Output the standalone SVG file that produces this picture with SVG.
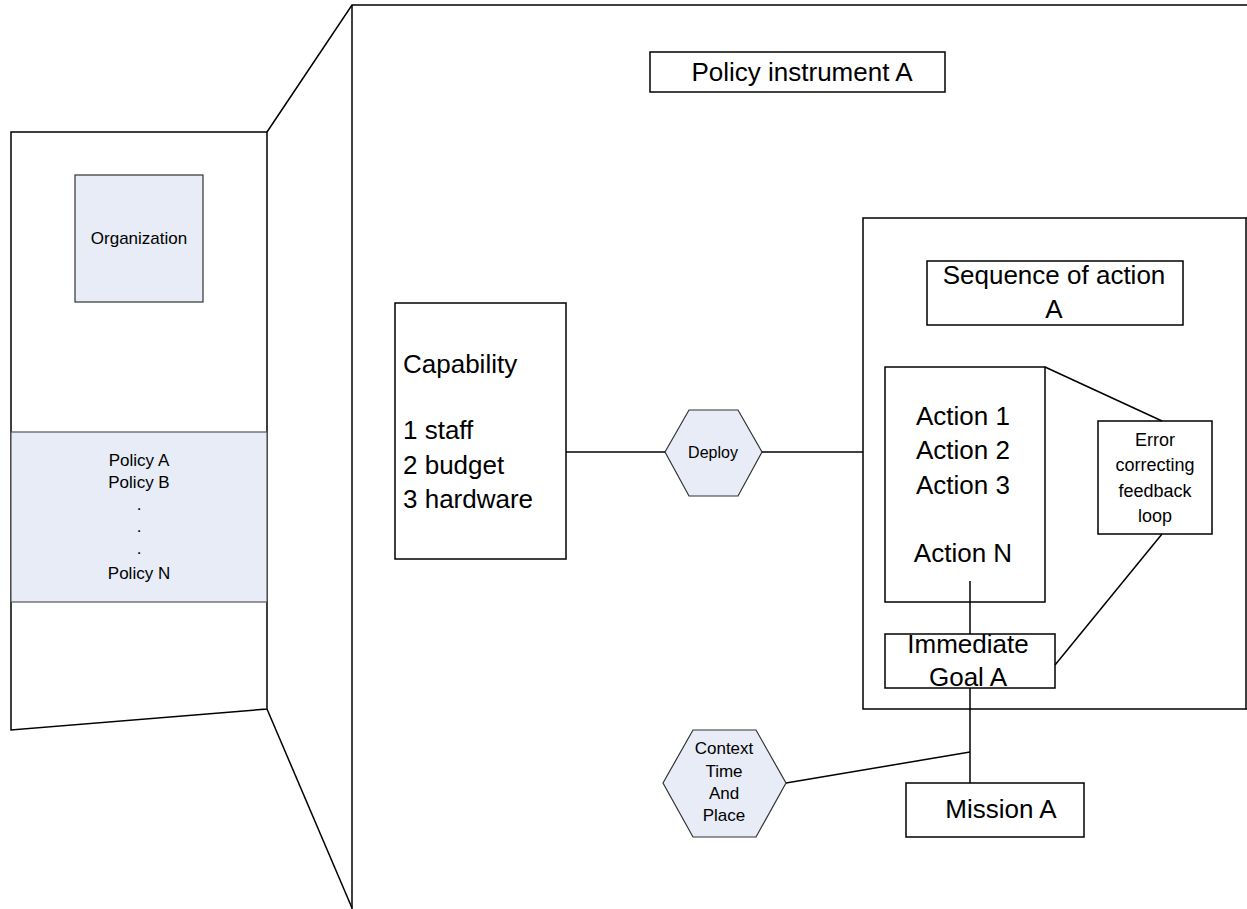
<svg xmlns="http://www.w3.org/2000/svg" width="1247" height="909" viewBox="0 0 1247 909">
  <style>
    .ln { fill: none; stroke: #000; stroke-width: 1.5; }
    .box { fill: #fff; stroke: #000; stroke-width: 1.5; }
    .tint { fill: #e7ecf6; stroke: #333; stroke-width: 1.2; }
    text { font-family: "Liberation Sans", Arial, sans-serif; fill: #000; }
    .sm { font-size: 17px; }
    .dp { font-size: 16px; }
    .md { font-size: 18px; }
    .lg { font-size: 26px; }
    .c { text-anchor: middle; }
  </style>

  <!-- left panel (organization) -->
  <g id="org-panel">
    <polygon class="box" points="11,132 267,132 267,709 11,730"/>
    <rect class="tint" x="11" y="432" width="256" height="170" style="stroke:#555"/>
  </g>
  <g id="organization">
    <rect class="tint" x="75" y="175" width="128" height="127"/>
    <text class="sm c" x="139" y="244">Organization</text>
  </g>
  <g id="policies">
    <text class="sm c" x="139" y="466">Policy A</text>
    <text class="sm c" x="139" y="488">Policy B</text>
    <text class="sm c" x="139" y="510">.</text>
    <text class="sm c" x="139" y="532">.</text>
    <text class="sm c" x="139" y="554">.</text>
    <text class="sm c" x="139" y="579">Policy N</text>
  </g>

  <!-- main panel (policy instrument) -->
  <g id="instrument-panel">
    <polyline class="ln" points="267,132 352,5 1250,5"/>
    <line class="ln" x1="352" y1="5" x2="352" y2="909"/>
    <line class="ln" x1="267" y1="709" x2="352" y2="908"/>
  </g>
  <g id="policy-instrument">
    <rect class="box" x="650" y="52" width="295" height="40"/>
    <text class="lg c" x="802" y="81">Policy instrument A</text>
  </g>

  <g id="capability">
    <rect class="box" x="395" y="303" width="171" height="256"/>
    <text class="lg" x="403" y="373">Capability</text>
    <text class="lg" x="403" y="439">1 staff</text>
    <text class="lg" x="403" y="474">2 budget</text>
    <text class="lg" x="403" y="508">3 hardware</text>
  </g>

  <g id="deploy">
    <polygon class="tint" points="665,452 689,410 738,410 762,452 738,496 689,496"/>
    <text class="dp c" x="713" y="458">Deploy</text>
  </g>

  <!-- sequence of action panel -->
  <g id="sequence-panel">
    <polyline class="ln" points="1250,218 863,218 863,709 1250,709"/>
    <line class="ln" x1="1246" y1="218" x2="1246" y2="709"/>
  </g>
  <g id="sequence-title">
    <rect class="box" x="927" y="261" width="256" height="64"/>
    <text class="lg c" x="1054" y="284">Sequence of action</text>
    <text class="lg c" x="1054" y="318">A</text>
  </g>
  <g id="actions">
    <rect class="box" x="885" y="367" width="160" height="235"/>
    <text class="lg c" x="963" y="425">Action 1</text>
    <text class="lg c" x="963" y="459">Action 2</text>
    <text class="lg c" x="963" y="494">Action 3</text>
    <text class="lg c" x="963" y="562">Action N</text>
  </g>
  <g id="feedback">
    <rect class="box" x="1098" y="421" width="114" height="113"/>
    <text class="md c" x="1155" y="446">Error</text>
    <text class="md c" x="1155" y="471">correcting</text>
    <text class="md c" x="1155" y="497">feedback</text>
    <text class="md c" x="1155" y="522">loop</text>
  </g>
  <g id="immediate-goal">
    <rect class="box" x="885" y="634" width="170" height="54"/>
    <text class="lg c" x="968" y="653">Immediate</text>
    <text class="lg c" x="968" y="686">Goal A</text>
  </g>

  <g id="context">
    <polygon class="tint" points="663,783 693,730 756,730 786,783 756,837 693,837"/>
    <text class="sm c" x="724" y="754">Context</text>
    <text class="sm c" x="724" y="777">Time</text>
    <text class="sm c" x="724" y="799">And</text>
    <text class="sm c" x="724" y="821">Place</text>
  </g>
  <g id="mission">
    <rect class="box" x="906" y="783" width="178" height="54"/>
    <text class="lg c" x="1001" y="818">Mission A</text>
  </g>

  <!-- connectors, drawn last so they sit on top of node fills -->
  <g id="connectors">
    <line class="ln" x1="566" y1="452" x2="665" y2="452"/>
    <line class="ln" x1="762" y1="452" x2="863" y2="452"/>
    <line class="ln" x1="1045" y1="367" x2="1162" y2="421"/>
    <line class="ln" x1="1162" y1="534" x2="1055" y2="665"/>
    <line class="ln" x1="970" y1="581" x2="970" y2="634"/>
    <line class="ln" x1="970" y1="688" x2="970" y2="783"/>
    <line class="ln" x1="786" y1="783" x2="970" y2="752"/>
  </g>
</svg>
